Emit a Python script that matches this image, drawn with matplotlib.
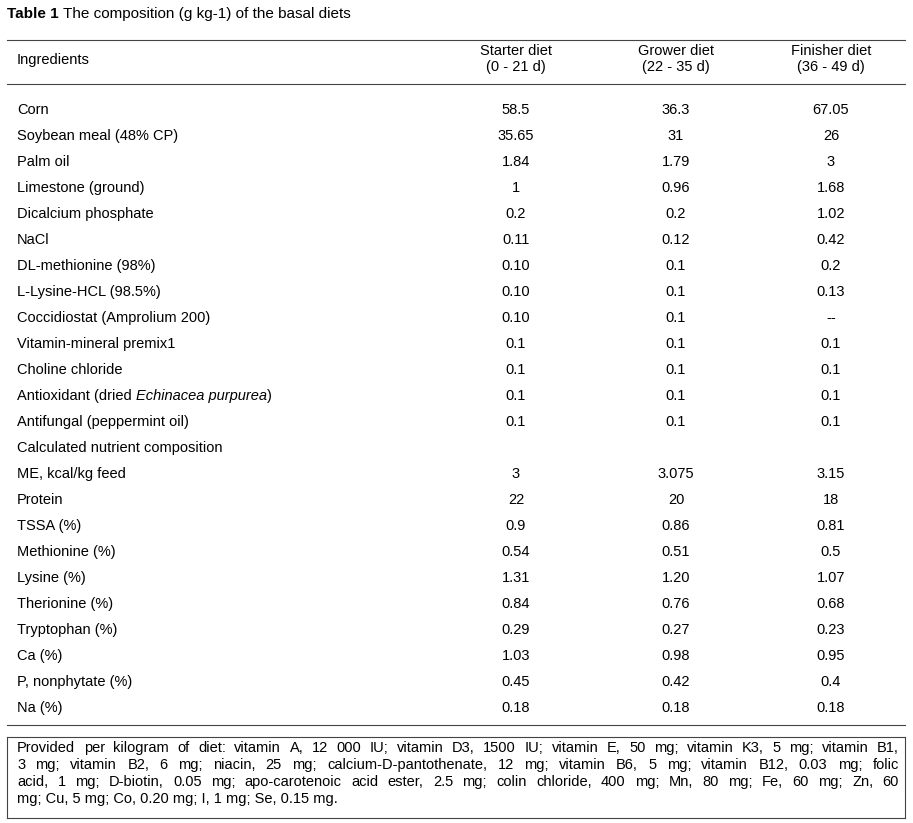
import matplotlib
matplotlib.use("Agg")
import matplotlib.pyplot as plt

plt.rcParams['font.family'] = ['Liberation Sans', 'DejaVu Sans']

# ── Table data ────────────────────────────────────────────────────────────────
columns = ["Starter diet\n(0 - 21 d)", "Grower diet\n(22 - 35 d)", "Finisher diet\n(36 - 49 d)"]
ingredients = [
    "Corn", "Soybean meal (48% CP)", "Palm oil", "Limestone (ground)",
    "Dicalcium phosphate", "NaCl", "DL-methionine (98%)", "L-Lysine-HCL (98.5%)",
    "Coccidiostat (Amprolium 200)", "Vitamin-mineral premix1", "Choline chloride",
    "Antioxidant (dried |Echinacea purpurea|)", "Antifungal (peppermint oil)",
    "Calculated nutrient composition", "ME, kcal/kg feed", "Protein", "TSSA (%)",
    "Methionine (%)", "Lysine (%)", "Therionine (%)", "Tryptophan (%)", "Ca (%)",
    "P, nonphytate (%)", "Na (%)",
]
starter = ["58.5", "35.65", "1.84", "1", "0.2", "0.11", "0.10", "0.10", "0.10", "0.1",
           "0.1", "0.1", "0.1", "", "3", "22", "0.9", "0.54", "1.31", "0.84", "0.29",
           "1.03", "0.45", "0.18"]
grower = ["36.3", "31", "1.79", "0.96", "0.2", "0.12", "0.1", "0.1", "0.1", "0.1",
          "0.1", "0.1", "0.1", "", "3.075", "20", "0.86", "0.51", "1.20", "0.76", "0.27",
          "0.98", "0.42", "0.18"]
finisher = ["67.05", "26", "3", "1.68", "1.02", "0.42", "0.2", "0.13", "--", "0.1",
            "0.1", "0.1", "0.1", "", "3.15", "18", "0.81", "0.5", "1.07", "0.68", "0.23",
            "0.95", "0.4", "0.18"]
footnote = [
    "Provided per kilogram of diet: vitamin A, 12 000 IU; vitamin D3, 1500 IU; vitamin E, 50 mg; vitamin K3, 5 mg; vitamin B1,",
    "3 mg; vitamin B2, 6 mg; niacin, 25 mg; calcium-D-pantothenate, 12 mg; vitamin B6, 5 mg; vitamin B12, 0.03 mg; folic",
    "acid, 1 mg; D-biotin, 0.05 mg; apo-carotenoic acid ester, 2.5 mg; colin chloride, 400 mg; Mn, 80 mg; Fe, 60 mg; Zn, 60",
    "mg; Cu, 5 mg; Co, 0.20 mg; I, 1 mg; Se, 0.15 mg.",
]

W, H = 913, 823
fig = plt.figure(figsize=(W / 100, H / 100), dpi=100, facecolor="white")
ax = fig.add_axes([0, 0, 1, 1])
ax.set_xlim(0, W)
ax.set_ylim(H, 0)
ax.axis("off")
fig.canvas.draw()
renderer = fig.canvas.get_renderer()
FS = 10.5


def rich(x, y, parts, **kw):
    """Draw text pieces side by side; parts = [(text, weight, style)]."""
    for txt, weight, style in parts:
        t = ax.text(x, y, txt, fontsize=kw.get("fs", FS), fontweight=weight,
                    fontstyle=style, va="center", ha="left")
        x += t.get_window_extent(renderer).width


def justified(x0, x1, y, line, fs):
    words = line.split(" ")
    arts = [ax.text(0, y, w, fontsize=fs, va="center", ha="left") for w in words]
    widths = [a.get_window_extent(renderer).width for a in arts]
    gap = (x1 - x0 - sum(widths)) / max(len(words) - 1, 1)
    x = x0
    for a, w in zip(arts, widths):
        a.set_x(x)
        x += w + gap


rich(7, 14, [("Table 1", "bold", "normal"),
             (" The composition (g kg-1) of the basal diets", "normal", "normal")], fs=11)

lc = "#444444"
for yy in (40, 84, 725, 737, 818):
    ax.plot([7, 905], [yy, yy], color=lc, lw=0.8)
ax.plot([7, 7], [737, 818], color=lc, lw=0.8)
ax.plot([905, 905], [737, 818], color=lc, lw=0.8)

col_x = [516, 676, 831]
ax.text(17, 60, "Ingredients", fontsize=FS, va="center")
for cx, c in zip(col_x, columns):
    ax.text(cx, 59, c, fontsize=FS, va="center", ha="center", linespacing=1.25)

for i, name in enumerate(ingredients):
    y = 110 + 26 * i
    parts = name.split("|")
    rich(17, y, [(p, "normal", "italic" if k % 2 else "normal") for k, p in enumerate(parts)])
    for cx, vals in zip(col_x, (starter, grower, finisher)):
        ax.text(cx, y, vals[i], fontsize=FS, va="center", ha="center")

for j, line in enumerate(footnote):
    y = 748 + 17 * j
    if j < len(footnote) - 1:
        justified(17, 899, y, line, 10.5)
    else:
        ax.text(17, y, line, fontsize=10.5, va="center")

fig.savefig("out.png", dpi=100, facecolor="white")
